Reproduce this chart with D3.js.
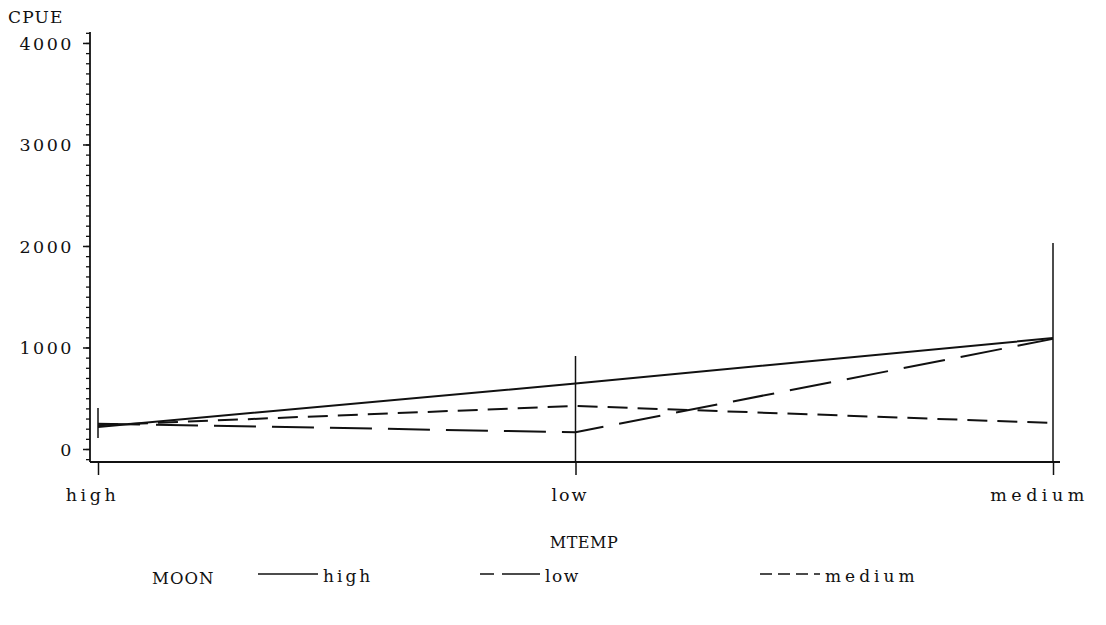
<!DOCTYPE html>
<html>
<head>
<meta charset="utf-8">
<script src="https://cdn.jsdelivr.net/npm/d3@7"></script>
<style>
  html, body { margin: 0; padding: 0; background: #fff; }
  text { font-family: "DejaVu Serif", "Liberation Serif", serif; fill: #111; }
</style>
</head>
<body>
<svg id="chart" width="1106" height="625"></svg>
<script>
// ---- data ----
const categories = ["high", "low", "medium"];           // MTEMP
const seriesNames = ["high", "low", "medium"];          // MOON
const highValues = [217, 645, 1093];
const lowValues = [250, 165, 1085];
const mediumValues = [235, 424, 256];
const rangeLow = [108, -128, -128];
const rangeHigh = [404, 916, 2030];
const yTicks = [0, 1000, 2000, 3000, 4000];
const yMinorStep = 100;

const svg = d3.select("#chart");
const x = d3.scalePoint().domain(categories).range([98, 1053]);
const y = d3.scaleLinear().domain([-128, 4108]).range([462, 32]);

const ink = "#111";
const dashes = { high: null, low: "42,16", medium: "20,10" };
const labelSpacing = { high: 3.5, low: 2, medium: 4.5 };
const series = [
  { name: "high", values: highValues },
  { name: "low", values: lowValues },
  { name: "medium", values: mediumValues }
];

// y axis
const minorTicks = d3.range(-100, 4101, yMinorStep).filter(v => v >= y.domain()[0] && v <= y.domain()[1]);
const yAxisMinor = d3.axisLeft(y).tickValues(minorTicks).tickSize(4).tickFormat("");
svg.append("g").attr("transform", "translate(90,0)").call(yAxisMinor)
  .call(g => g.select(".domain").remove())
  .selectAll("line").attr("stroke", ink).attr("stroke-width", 1.3);

const yAxis = d3.axisLeft(y).tickValues(yTicks).tickSize(7).tickPadding(9).tickFormat(d3.format("d"));
const gy = svg.append("g").attr("transform", "translate(90,0)").call(yAxis);
gy.select(".domain").remove();
gy.selectAll("line").attr("stroke", ink).attr("stroke-width", 1.5);
gy.selectAll("text").attr("font-size", 17.5).attr("letter-spacing", 2.5)
  .style("font-family", '"DejaVu Serif", serif').attr("fill", ink).attr("dy", "0.35em");

svg.append("line").attr("x1", 90).attr("x2", 90).attr("y1", y.range()[1]).attr("y2", y.range()[0])
  .attr("stroke", ink).attr("stroke-width", 1.8);

// bottom axis line
svg.append("line").attr("x1", 90).attr("x2", 1060).attr("y1", y.range()[0]).attr("y2", y.range()[0])
  .attr("stroke", ink).attr("stroke-width", 1.8);

// x axis ticks + labels
const xAxis = d3.axisBottom(x).tickSize(13).tickPadding(14);
const gx = svg.append("g").attr("transform", `translate(0,${y.range()[0]})`).call(xAxis);
gx.select(".domain").remove();
gx.selectAll("line").attr("stroke", ink).attr("stroke-width", 1.5);
gx.selectAll("text").attr("font-size", 17.5).attr("letter-spacing", d => labelSpacing[d])
  .style("font-family", '"DejaVu Serif", serif').attr("fill", ink)
  .attr("text-anchor", "middle").attr("dx", d => d === "medium" ? -14 : -6);

// range lines
svg.append("g").selectAll("line").data(categories).join("line")
  .attr("x1", d => x(d)).attr("x2", d => x(d))
  .attr("y1", (d, i) => y(rangeLow[i])).attr("y2", (d, i) => y(rangeHigh[i]))
  .attr("stroke", ink).attr("stroke-width", 1.5);

// series lines
const line = d3.line().x((d, i) => x(categories[i])).y(d => y(d));
svg.append("g").selectAll("path").data(series).join("path")
  .attr("d", d => line(d.values))
  .attr("fill", "none").attr("stroke", ink).attr("stroke-width", 2)
  .attr("stroke-dasharray", d => dashes[d.name]);

// titles
svg.append("text").attr("x", 8).attr("y", 23).attr("font-size", 17).attr("letter-spacing", 1.2).text("CPUE");
svg.append("text").attr("x", 584).attr("y", 548).attr("text-anchor", "middle")
  .attr("font-size", 16).attr("letter-spacing", 0.5).text("MTEMP");

// legend
const legY = 578;
svg.append("text").attr("x", 152).attr("y", legY + 6).attr("font-size", 16.5).attr("letter-spacing", 1).text("MOON");
const legendX = [258, 480, 760];
const lg = svg.append("g").selectAll("g").data(seriesNames).join("g")
  .attr("transform", (d, i) => `translate(${legendX[i]},${legY - 4})`);
lg.append("line").attr("x1", 0).attr("x2", 60).attr("y1", 0).attr("y2", 0)
  .attr("stroke", ink).attr("stroke-width", 1.6)
  .attr("stroke-dasharray", d => d === "high" ? null : (d === "low" ? "14,8,38,0" : "12,6"));
lg.append("text").attr("x", 65).attr("y", 8).attr("font-size", 17)
  .attr("letter-spacing", d => labelSpacing[d] - 0.5).text(d => d);
</script>
</body>
</html>
